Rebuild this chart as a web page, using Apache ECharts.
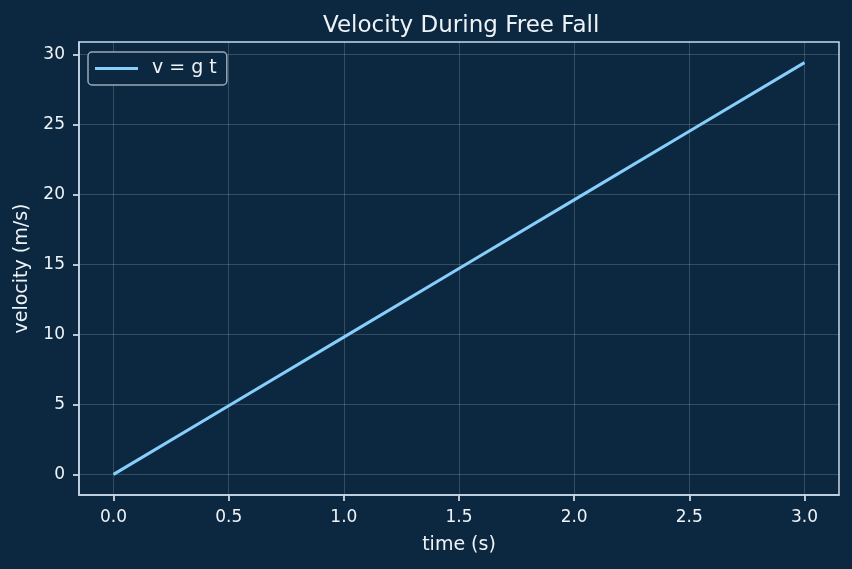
<!DOCTYPE html>
<html>
<head>
<meta charset="utf-8">
<script src="https://cdn.jsdelivr.net/npm/echarts@6/dist/echarts.min.js"></script>
<style>
  html, body { margin: 0; padding: 0; background: #0c2840; }
  #chart { width: 852px; height: 569px; }
</style>
</head>
<body>
<div id="chart"></div>
<script>
  // time (s) and velocity (m/s), v = g t
  var times = [0, 0.5, 1.0, 1.5, 2.0, 2.5, 3.0]
  var velocities = [0, 4.905, 9.81, 14.715, 19.62, 24.525, 29.43]
  var xTicks = [0, 0.5, 1.0, 1.5, 2.0, 2.5, 3.0]
  var yTicks = [0, 5, 10, 15, 20, 25, 30]

  var bg = '#0c2840'
  var spine = '#c9d9e8'
  var textColor = '#eef3f8'
  var font = 'DejaVu Sans'

  var points = times.map(function (t, i) { return [t, velocities[i]] })

  var myChart = echarts.init(document.getElementById('chart'))
  var option = {
    backgroundColor: bg,
    animation: false,
    title: {
      text: 'Velocity During Free Fall',
      left: 318,
      top: 10,
      textStyle: { color: textColor, fontFamily: font, fontSize: 23, fontWeight: 'normal' }
    },
    legend: {
      data: ['v = g t'],
      left: 88,
      top: 52,
      icon: 'rect',
      itemWidth: 43,
      itemHeight: 3,
      padding: [7, 10, 7, 7],
      backgroundColor: bg,
      borderColor: '#9aa8b6',
      borderWidth: 1.5,
      borderRadius: 4,
      textStyle: { color: textColor, fontFamily: font, fontSize: 19, padding: [0, 0, 0, 9] }
    },
    grid: {
      left: 79,
      right: 13,
      top: 42,
      bottom: 74,
      containLabel: false,
      outerBoundsMode: 'none',
      show: true,
      borderColor: spine,
      borderWidth: 1.5,
      backgroundColor: bg
    },
    xAxis: {
      type: 'value',
      min: -0.15,
      max: 3.15,
      name: 'time (s)',
      nameLocation: 'middle',
      nameGap: 41,
      nameTextStyle: { color: textColor, fontFamily: font, fontSize: 19 },
      axisLine: { show: true, onZero: false, lineStyle: { color: spine, width: 1.5 } },
      axisTick: { show: true, length: 6, customValues: xTicks, lineStyle: { color: spine, width: 1.8 } },
      axisLabel: {
        customValues: xTicks,
        color: textColor, fontFamily: font, fontSize: 17, margin: 14,
        formatter: function (v) { return v.toFixed(1) }
      },
      splitLine: { show: true, lineStyle: { color: 'rgba(255,255,255,0.22)', width: 0.8 } }
    },
    yAxis: {
      type: 'value',
      min: -1.4715,
      max: 30.9015,
      name: 'velocity (m/s)',
      nameLocation: 'middle',
      nameGap: 47,
      nameTextStyle: { color: textColor, fontFamily: font, fontSize: 19 },
      axisLine: { show: true, onZero: false, lineStyle: { color: spine, width: 1.5 } },
      axisTick: { show: true, length: 6, customValues: yTicks, lineStyle: { color: spine, width: 1.8 } },
      axisLabel: { customValues: yTicks, color: textColor, fontFamily: font, fontSize: 17, margin: 14 },
      splitLine: { show: true, lineStyle: { color: 'rgba(255,255,255,0.22)', width: 0.8 } }
    },
    series: [{
      name: 'v = g t',
      type: 'line',
      data: points,
      showSymbol: false,
      color: '#87cefa',
      lineStyle: { width: 3, color: '#87cefa' }
    }]
  }
  myChart.setOption(option)
</script>
</body>
</html>
